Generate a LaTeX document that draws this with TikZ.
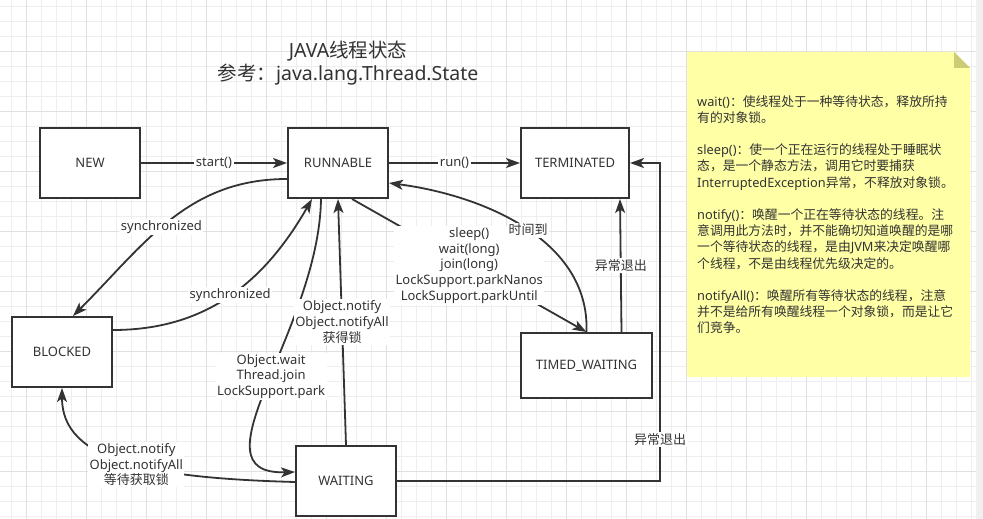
\documentclass[tikz,border=0pt]{standalone}
\usepackage{fontspec}
\setmainfont{Noto Sans}
\newfontfamily\cjk{Noto Sans CJK SC}
\usetikzlibrary{arrows.meta,calc}

\definecolor{ink}{RGB}{51,51,51}
\definecolor{gridminor}{RGB}{238,238,238}
\definecolor{gridmajor}{RGB}{224,224,224}
\definecolor{notefill}{RGB}{255,255,166}
\definecolor{notefold}{RGB}{204,204,119}
\definecolor{sidebar}{RGB}{240,240,240}

\tikzset{
  statebox/.style={draw=ink, line width=2pt, fill=white, minimum width=100pt,
    minimum height=70pt, inner sep=0pt, text=ink, font=\fontsize{13}{15}\selectfont},
  trans/.style={draw=ink, line width=1.8pt, -{Stealth[length=14pt,width=10pt,inset=3.5pt]}},
  lbl/.style={fill=white, inner sep=1.5pt, text=ink, align=center,
    font=\fontsize{13}{15.7}\selectfont},
  notetext/.style={text=ink, align=left, inner sep=0pt, anchor=north west,
    font=\fontsize{12.8}{16.2}\selectfont},
}

\begin{document}
\begin{tikzpicture}[x=1pt,y=-1pt]
		\useasboundingbox (0,0) rectangle (983,519);
		
		%%%%% GRID %%%%%
		\foreach \gx in {0,...,64}
		  \draw[gridminor, line width=0.8pt] (11.7+15*\gx,0) -- (11.7+15*\gx,519);
		\foreach \gy in {0,...,34}
		  \draw[gridminor, line width=0.8pt] (0,6+15*\gy) -- (976,6+15*\gy);
		\foreach \gx in {0,...,15}
		  \draw[gridmajor, line width=0.8pt] (26.7+60*\gx,0) -- (26.7+60*\gx,519);
		\foreach \gy in {0,...,7}
		  \draw[gridmajor, line width=0.8pt] (0,51+60*\gy) -- (976,51+60*\gy);
		\fill[sidebar] (976,0) rectangle (983,519);
		
		%%%%% NOTE %%%%%
		\fill[notefill] (687,52) -- (954,52) -- (970,68) -- (970,377) -- (687,377) -- cycle;
		\fill[notefold] (954,52) -- (970,68) -- (954,68) -- cycle;
		\node[notetext] (notebody) at (697,95) {%
		  wait(){\cjk ：使线程处于一种等待状态，释放所持}\\
		  {\cjk 有的对象锁。}\\[16.2pt]
		  sleep(){\cjk ：使一个正在运行的线程处于睡眠状}\\
		  {\cjk 态，是一个静态方法，调用它时要捕获}\\
		  InterruptedException{\cjk 异常，不释放对象锁。}\\[16.2pt]
		  notify(){\cjk ：唤醒一个正在等待状态的线程。注}\\
		  {\cjk 意调用此方法时，并不能确切知道唤醒的是哪}\\
		  {\cjk 一个等待状态的线程，是由}JVM{\cjk 来决定唤醒哪}\\
		  {\cjk 个线程，不是由线程优先级决定的。}\\[16.2pt]
		  notifyAll(){\cjk ：唤醒所有等待状态的线程，注意}\\
		  {\cjk 并不是给所有唤醒线程一个对象锁，而是让它}\\
		  {\cjk 们竞争。}};
		
		%%%%% TITLE %%%%%
		\node[text=ink, align=center, font=\fontsize{19.5}{23}\selectfont] (title) at (348,63)
		  {JAVA{\cjk 线程状态}\\{\cjk 参考：}java.lang.Thread.State};
		
		%%%%% STATES %%%%%
		\node[statebox] (new) at (90,163) {NEW};
		\node[statebox] (runnable) at (338,163) {RUNNABLE};
		\node[statebox, minimum width=108pt] (terminated) at (575,163) {TERMINATED};
		\node[statebox] (blocked) at (62,352) {BLOCKED};
		\node[statebox] (waiting) at (346,481) {WAITING};
		\node[statebox, minimum width=131pt, minimum height=65pt] (timed) at (586.5,365.5) {TIMED\_WAITING};
		
		%%%%% TRANSITIONS %%%%%
		\draw[trans] (new) -- (runnable) node[lbl, midway] {start()};
		\draw[trans] (runnable) -- (terminated) node[lbl, midway] {run()};
		
		\draw[trans] ($(runnable.west)+(0,16)$) .. controls ($(runnable.west)+(-100,16)$) and ($(blocked.north)+(82,-71)$) .. ($(blocked.north)+(11,0)$)
		  node[lbl, pos=0.54] {synchronized};
		\draw[trans] ($(blocked.east)+(0,-22)$) .. controls ($(blocked.east)+(94,-22)$) and ($(runnable.south west)+(-22,82)$) .. ($(runnable.south west)+(25,0)$)
		  node[lbl, pos=0.5] {synchronized};
		
		\draw[trans] ($(runnable.south west)+(34,0)$) .. controls ($(runnable.south west)+(32,132)$) and ($(waiting.west)+(-106,-6)$) .. ($(waiting.west)+(0,-9)$)
		  node[lbl, pos=0.47] {Object.wait\\Thread.join\\LockSupport.park};
		\draw[trans] (waiting.north) -- (runnable.south)
		  node[lbl, midway] {Object.notify\\Object.notifyAll\\{\cjk 获得锁}};
		\draw[trans] ($(waiting.west)+(0,1)$) .. controls ($(waiting.west)+(-146,-3)$) and ($(blocked.south)+(0,73)$) .. (blocked.south)
		  node[lbl, pos=0.45] {Object.notify\\Object.notifyAll\\{\cjk 等待获取锁}};
		
		\draw[trans] ($(runnable.south)+(14,0)$) -- (timed.north)
		  node[lbl, midway] {sleep()\\wait(long)\\join(long)\\LockSupport.parkNanos\\LockSupport.parkUntil};
		\draw[trans] (timed.north) .. controls ($(timed.north)+(3.5,-93)$) and ($(runnable.east)+(92,32)$) .. ($(runnable.east)+(0,20)$)
		  node[lbl, pos=0.48] {\cjk 时间到};
		\draw[trans] ($(timed.north)+(35,0)$) -- ($(terminated.south)+(45,0)$)
		  node[lbl, midway] {\cjk 异常退出};
		\draw[trans] (waiting.east) -| ($(terminated.east)+(30,0)$) node[lbl, pos=0.565] {\cjk 异常退出}
		  -- (terminated.east);
		
	\end{tikzpicture}
\end{document}
